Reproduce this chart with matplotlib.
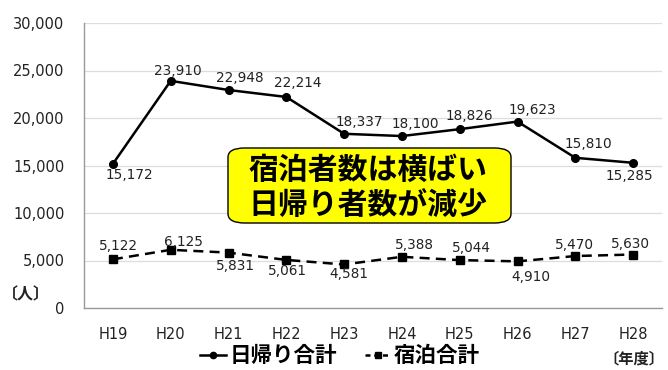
import matplotlib
matplotlib.use("Agg")
import matplotlib.pyplot as plt
from matplotlib.patches import FancyBboxPatch
from matplotlib.lines import Line2D

plt.rcParams['font.family'] = ['Noto Sans CJK JP', 'DejaVu Sans']
NUMFONT = ['DejaVu Sans']

categories = ["H19", "H20", "H21", "H22", "H23", "H24", "H25", "H26", "H27", "H28"]
daytrip = [15172, 23910, 22948, 22214, 18337, 18100, 18826, 19623, 15810, 15285]
stay = [5122, 6125, 5831, 5061, 4581, 5388, 5044, 4910, 5470, 5630]
yticks = [0, 5000, 10000, 15000, 20000, 25000, 30000]

# label offsets from the marker (pixels: right, down)
daytrip_label_offsets = [(16, 11), (7, -10), (11, -12), (11, -14), (15, -12),
                         (13, -12), (10, -13), (15, -12), (13, -14), (-4, 13)]
stay_label_offsets = [(6, -13), (13, -8), (7, 13), (1, 11), (5, 10),
                      (13, -12), (12, -12), (13, 16), (-1, -11), (-3, -11)]

fig = plt.figure(figsize=(6.68, 3.70), dpi=100)
ax = fig.add_axes([84/668, 1-308/370, (662-84)/668, (308-23)/370])

x = list(range(len(categories)))
ax.plot(x, daytrip, color='black', lw=1.8, marker='o', ms=5.5, label='日帰り合計', zorder=3)
ax.plot(x, stay, color='black', lw=1.8, ls=(0, (4, 2.5)), marker='s', ms=6, label='宿泊合計', zorder=3)

def label(xs, vals, offs):
    for xi, v, (dx, dy) in zip(xs, vals, offs):
        ax.annotate(f"{v:,}", (xi, v), xytext=(dx, -dy), textcoords='offset pixels',
                    ha='center', va='center', fontsize=9.8,
                    color='#222222', family=NUMFONT, zorder=4)

label(x, daytrip, daytrip_label_offsets)
label(x, stay, stay_label_offsets)

ax.set_xlim(-0.5, len(categories) - 0.5)
ax.set_ylim(0, 30000)
ax.set_xticks(x)
ax.set_xticklabels(categories, fontsize=10.5, family=NUMFONT)
ax.set_yticks(yticks)
ax.set_yticklabels([f"{t:,}" for t in yticks], fontsize=10.5, family=NUMFONT)
ax.tick_params(axis='both', length=0, colors='#222222')
ax.tick_params(axis='x', pad=14)
ax.tick_params(axis='y', pad=14)
ax.grid(axis='y', color='#dddddd', lw=0.9)
ax.set_axisbelow(True)
for s in ['top', 'right']:
    ax.spines[s].set_visible(False)
for s in ['left', 'bottom']:
    ax.spines[s].set_color('#999999')
    ax.spines[s].set_linewidth(1.0)

# text box
box = FancyBboxPatch((228/668, 1-223/370), (511-228)/668, (223-148)/370,
                     boxstyle="round,pad=0,rounding_size=0.025",
                     transform=fig.transFigure, facecolor='#ffff00', edgecolor='black', lw=1.0, zorder=5)
fig.patches.append(box)
fig.text(368/668, 1-188/370, "宿泊者数は横ばい\n日帰り者数が減少", ha='center', va='center',
         fontsize=21.5, fontweight='bold', linespacing=1.22, zorder=6)

fig.text(26/668, 1-294/370, "〔人〕", ha='center', va='center', fontsize=11.5, fontweight='bold', color='#222222')
fig.text(664/668, 1-358/370, "〔年度〕", ha='right', va='center', fontsize=11, fontweight='bold', color='#222222')

h1 = Line2D([], [], color='black', lw=1.8, marker='o', ms=4.5)
h2 = Line2D([], [], color='black', lw=1.8, ls=(0, (2, 1.5)), marker='s', ms=5)
leg = fig.legend([h1, h2], ['日帰り合計', '宿泊合計'], loc='center', bbox_to_anchor=(340/668, 1-356/370),
                 ncol=2, frameon=False, handlelength=1.2, handletextpad=0.15, columnspacing=1.3,
                 prop={'size': 15.5, 'weight': 'bold'})

fig.savefig("out.png", dpi=100)
